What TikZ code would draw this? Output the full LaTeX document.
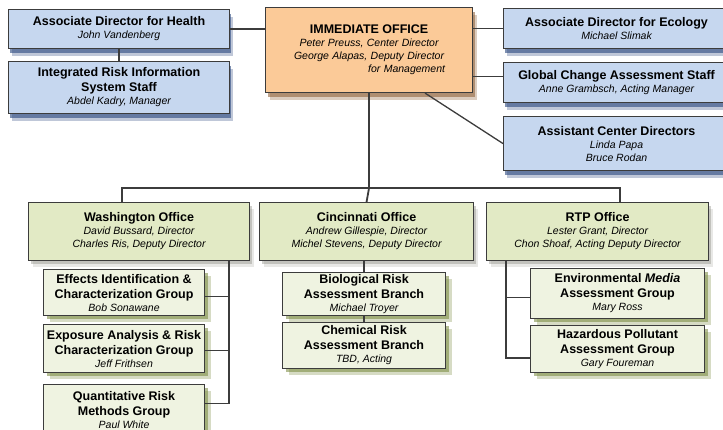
\documentclass[tikz,border=0pt]{standalone}
\usepackage{fontspec}
\setmainfont{Liberation Sans}
\usepackage{tikz}
\usetikzlibrary{shadows}

% Box colours
\definecolor{boxblue}{HTML}{C6D7EF}
\definecolor{boxpeach}{HTML}{FBCA98}
\definecolor{boxgreen}{HTML}{E2EAC5}
\definecolor{boxpale}{HTML}{EFF3E1}
\definecolor{edgegray}{HTML}{3C3C3C}
\definecolor{shblue}{HTML}{2A477E}
\definecolor{shgreen}{HTML}{76873A}
\definecolor{shgray}{HTML}{8A8A80}
\definecolor{shbrown}{HTML}{8A5A30}

\newcommand{\unit}[1]{{\fontsize{12.5}{14}\selectfont\bfseries #1}}
\newcommand{\who}[1]{{\fontsize{10.5}{12}\selectfont\itshape #1}}

\begin{document}
\begin{tikzpicture}[x=1pt,y=-1pt,
  orgbox/.style={draw=edgegray,line width=1.1pt,anchor=north west,align=center,
    inner sep=2pt,font=\fontsize{10}{13}\selectfont},
  bluebox/.style={orgbox,fill=boxblue,
    drop shadow={shadow xshift=1pt,shadow yshift=-4pt,fill=shblue,opacity=.6},
    drop shadow={shadow xshift=3pt,shadow yshift=-7pt,fill=shblue,opacity=.3}},
  peachbox/.style={orgbox,fill=boxpeach,
    drop shadow={shadow xshift=2pt,shadow yshift=-4pt,fill=shbrown,opacity=.55},
    drop shadow={shadow xshift=4pt,shadow yshift=-7pt,fill=shbrown,opacity=.3}},
  officebox/.style={orgbox,fill=boxgreen,
    drop shadow={shadow xshift=2pt,shadow yshift=-3pt,fill=shgray,opacity=.4},
    drop shadow={shadow xshift=4pt,shadow yshift=-6pt,fill=shgray,opacity=.2}},
  groupbox/.style={orgbox,fill=boxpale,
    drop shadow={shadow xshift=3pt,shadow yshift=-3pt,fill=shgreen,opacity=.55},
    drop shadow={shadow xshift=6pt,shadow yshift=-6pt,fill=shgreen,opacity=.3}},
  link/.style={draw=edgegray,line width=1.3pt}]

\clip (0,0) rectangle (723,429);

% Top row
\node[bluebox,minimum width=221pt,minimum height=39pt] (health) at (8,9)
  {\unit{Associate Director for Health}\\ \who{John Vandenberg}};
\node[bluebox,minimum width=221pt,minimum height=52pt] (iris) at (8,61)
  {\unit{Integrated Risk Information}\\[2pt] \unit{System Staff}\\ \who{Abdel Kadry, Manager}};
\node[peachbox,minimum width=207pt,minimum height=85pt,text width=152pt] (office) at (265,7)
  {\unit{IMMEDIATE OFFICE}\\ \who{Peter Preuss, Center Director}\\
   \who{George Alapas, Deputy Director}\\ \hfill\who{for Management}};
\node[bluebox,minimum width=226pt,minimum height=40pt] (ecology) at (503,8)
  {\unit{Associate Director for Ecology}\\ \who{Michael Slimak}};
\node[bluebox,minimum width=226pt,minimum height=40pt] (global) at (503,62)
  {\unit{Global Change Assessment Staff}\\ \who{Anne Grambsch, Acting Manager}};
\node[bluebox,minimum width=226pt,minimum height=54pt] (acd) at (503,116)
  {\unit{Assistant Center Directors}\\ \who{Linda Papa}\\ \who{Bruce Rodan}};

% Offices
\node[officebox,minimum width=221pt,minimum height=58pt] (washington) at (28,202)
  {\unit{Washington Office}\\ \who{David Bussard, Director}\\ \who{Charles Ris, Deputy Director}};
\node[officebox,minimum width=214pt,minimum height=58pt] (cincinnati) at (259,202)
  {\unit{Cincinnati Office}\\ \who{Andrew Gillespie, Director}\\ \who{Michel Stevens, Deputy Director}};
\node[officebox,minimum width=222pt,minimum height=58pt] (rtp) at (486,202)
  {\unit{RTP Office}\\ \who{Lester Grant, Director}\\ \who{Chon Shoaf, Acting Deputy Director}};

% Groups and branches
\node[groupbox,minimum width=161pt,minimum height=46pt] (effects) at (43,269)
  {\unit{Effects Identification \&}\\[2pt] \unit{Characterization Group}\\ \who{Bob Sonawane}};
\node[groupbox,minimum width=161pt,minimum height=48pt] (exposure) at (43,324)
  {\unit{Exposure Analysis \& Risk}\\[2pt] \unit{Characterization Group}\\ \who{Jeff Frithsen}};
\node[groupbox,minimum width=161pt,minimum height=50pt] (quant) at (43,384)
  {\unit{Quantitative Risk}\\[2pt] \unit{Methods Group}\\ \who{Paul White}};
\node[groupbox,minimum width=163pt,minimum height=43pt] (bio) at (282,272)
  {\unit{Biological Risk}\\[2pt] \unit{Assessment Branch}\\ \who{Michael Troyer}};
\node[groupbox,minimum width=163pt,minimum height=46pt] (chem) at (282,322)
  {\unit{Chemical Risk}\\[2pt] \unit{Assessment Branch}\\ \who{TBD, Acting}};
\node[groupbox,minimum width=174pt,minimum height=50pt] (envmedia) at (530,268)
  {\unit{Environmental \textit{Media}}\\[2pt] \unit{Assessment Group}\\ \who{Mary Ross}};
\node[groupbox,minimum width=174pt,minimum height=47pt] (hazard) at (530,325)
  {\unit{Hazardous Pollutant}\\[2pt] \unit{Assessment Group}\\ \who{Gary Foureman}};

% Define coordinates for the bus and spines.
\coordinate (busW) at (122,188);
\coordinate (busE) at (620,188);
\coordinate (wspine) at (229,260);
\coordinate (rspine) at (506,260);

% Top row links
\draw[link] (health.east) -- (health.east -| office.west);
\draw[link] (health.south) -- (iris.north);
\draw[link] (ecology.west -| office.east) -- (ecology.west);
\draw[link] ([yshift=6pt]global.west -| office.east) -- ([yshift=6pt]global.west);
\draw[link] ([xshift=56pt]office.south) -- (acd.west);

% Bus down to the offices
\draw[link,line width=1.8pt] (office.south) -- (office.south |- busW) -- (cincinnati.north);
\draw[link] (washington.north -| busW) -- (busW) -- (busE) -- (rtp.north -| busE);

% Washington groups
\draw[link] (wspine) |- ([yshift=6pt]quant.east);
\draw[link] ([yshift=-4pt]effects.east) -- ([yshift=-4pt]effects.east -| wspine);
\draw[link] ([yshift=-2pt]exposure.east) -- ([yshift=-2pt]exposure.east -| wspine);

% Cincinnati branches
\draw[link] (cincinnati.south -| bio.north) -- (bio.north);
\draw[link] (bio.south) -- (chem.north);

% RTP groups
\draw[link] (rspine) |- ([yshift=-9pt]hazard.west);
\draw[link] ([yshift=-4pt]envmedia.west) -- ([yshift=-4pt]envmedia.west -| rspine);

\end{tikzpicture}
\end{document}
